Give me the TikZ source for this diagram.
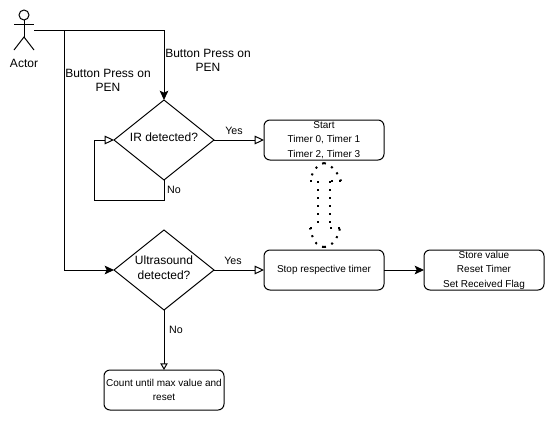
\documentclass[tikz,border=0pt]{standalone}
\usepackage{fontspec}
\setmainfont{Liberation Sans}
\usetikzlibrary{arrows.meta,shapes.geometric}

\tikzset{
    flowline/.style={line width=0.75pt, draw=black},
    fillhead/.style={-{Stealth[length=7pt, width=6.5pt, inset=1.5pt]}},
    openhead/.style={-{Triangle[open, fill=white, length=7pt, width=6.5pt]}},
    smallhead/.style={-{Triangle[open, fill=white, length=5pt, width=5.5pt]}},
    procbox/.style={flowline, rectangle, rounded corners=4.5pt, minimum width=90pt, minimum height=30pt,
        inner sep=0pt, outer sep=0pt, align=center, font=\fontsize{7.5}{10.9}\selectfont},
    decision/.style={flowline, diamond, aspect=1.25, minimum width=75pt, minimum height=60pt,
        inner sep=0pt, outer sep=0pt},
    decisiontext/.style={inner sep=0pt, align=center, font=\fontsize{9}{11}\selectfont},
    bigtext/.style={inner sep=0pt, align=center, font=\fontsize{9}{10.6}\selectfont},
    edgetext/.style={inner sep=0pt, font=\fontsize{8}{10}\selectfont},
    timerarrow/.style={line width=1.5pt, dash pattern=on 1.5pt off 4.5pt},
}

\begin{document}
\begin{tikzpicture}[x=0.75pt, y=-0.75pt]
        \useasboundingbox (0,0) rectangle (555,421);
        % actor
        \node [minimum width=15pt, minimum height=30pt, inner sep=0pt, outer sep=0pt] (actor) at (24,30) {};
        \draw [flowline] (24,15) circle (5);
        \draw [flowline] (24,20) -- (24,37);
        \draw [flowline] (14,24) -- (34,24);
        \draw [flowline] (14,50) -- (24,37) -- (34,50);
        \node [bigtext] (actorlabel) at (24,63.5) {Actor};

        \node [decision, label={[decisiontext, yshift=2.25pt]center:IR detected?}] (ir) at (164,140) {};
        \node [decision, label={[decisiontext, yshift=1.5pt]center:{Ultrasound\\detected?}}] (ultra) at (164,270) {};
        \node [procbox] (start) at (324,140) {Start\\Timer 0, Timer 1\\Timer 2, Timer 3};
        \node [procbox] (stop) at (324,270) {Stop respective timer};
        \node [procbox] (store) at (484,270) {Store value\\Reset Timer\\Set Received Flag};
        \node [procbox] (count) at (164,390) {Count until max value and\\reset};

        \node [bigtext] (penone) at (208,60) {Button Press on\\PEN};
        \node [bigtext] (pentwo) at (108,80) {Button Press on\\PEN};

        \coordinate (split) at (64,30);
        \draw [flowline, fillhead] (actor.east) -| (ir.north);
        \draw [flowline, fillhead] (split) |- (ultra.west);
        \draw [flowline, openhead] (ir.east) -- (start.west) node[edgetext, pos=0.4, anchor=south, yshift=3.5pt]{Yes};
        \draw [flowline, openhead] (ir.south) -- ++(0,20) -- ++(-70,0) |- (ir.west);
        \node [edgetext] (irno) at (174,190) {No};
        \draw [flowline, openhead] (ultra.east) -- (stop.west) node[edgetext, pos=0.38, anchor=south, yshift=3.5pt]{Yes};
        \draw [flowline, smallhead] (ultra.south) -- (count.north) node[edgetext, pos=0.33, anchor=west, xshift=3.5pt]{No};
        \draw [flowline, fillhead] (stop.east) -- (store.west);

        % two way block arrow between the timers
        \draw [timerarrow] (324,163) .. controls (332,165) and (338,173) .. (341,181);
        \draw [timerarrow] (324,163) .. controls (316,165) and (312,173) .. (310,181);
        \draw [timerarrow] (341,181) -- (330,181);
        \draw [timerarrow] (310,181) -- (318,181);
        \draw [timerarrow] (318,181) -- (318,228);
        \draw [timerarrow] (330,181) -- (330,228);
        \draw [timerarrow] (310,228) -- (318,228);
        \draw [timerarrow] (340,228) -- (330,228);
        \draw [timerarrow] (324,247) .. controls (332,247) and (338,238) .. (340,228);
        \draw [timerarrow] (324,247) .. controls (316,247) and (312,238) .. (310,228);
    \end{tikzpicture}
\end{document}
